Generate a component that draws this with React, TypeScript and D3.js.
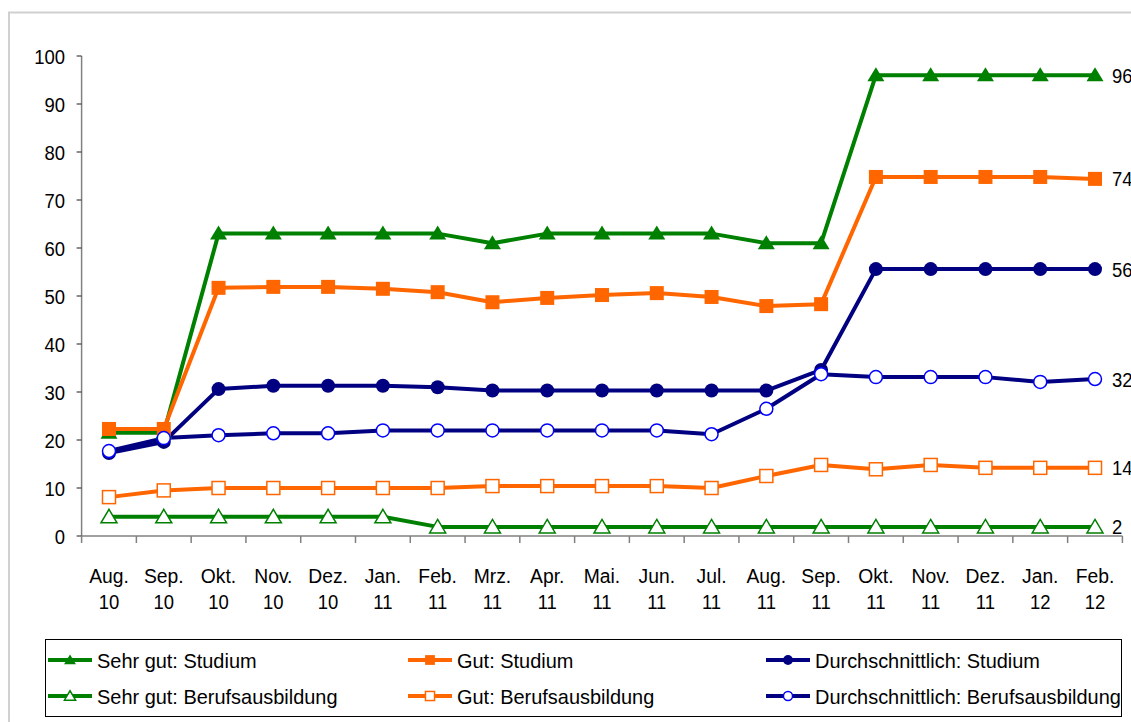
import React from "react";
import * as d3 from "d3";

const categories: string[][] = [
  ["Aug.", "10"], ["Sep.", "10"], ["Okt.", "10"], ["Nov.", "10"], ["Dez.", "10"],
  ["Jan.", "11"], ["Feb.", "11"], ["Mrz.", "11"], ["Apr.", "11"], ["Mai.", "11"],
  ["Jun.", "11"], ["Jul.", "11"], ["Aug.", "11"], ["Sep.", "11"], ["Okt.", "11"],
  ["Nov.", "11"], ["Dez.", "11"], ["Jan.", "12"], ["Feb.", "12"],
];

const sehrGutStudium = [21.5, 21.5, 63, 63, 63, 63, 63, 61, 63, 63, 63, 63, 61, 61, 96, 96, 96, 96, 96];
const gutStudium = [22.3, 22.3, 51.7, 51.9, 51.9, 51.5, 50.8, 48.7, 49.6, 50.2, 50.6, 49.8, 47.9, 48.3, 74.8, 74.8, 74.8, 74.8, 74.4];
const durchStudium = [17.3, 19.6, 30.6, 31.3, 31.3, 31.3, 31, 30.3, 30.3, 30.3, 30.3, 30.3, 30.3, 34.6, 55.6, 55.6, 55.6, 55.6, 55.6];
const sehrGutBeruf = [4, 4, 4, 4, 4, 4, 1.9, 1.9, 1.9, 1.9, 1.9, 1.9, 1.9, 1.9, 1.9, 1.9, 1.9, 1.9, 1.9];
const gutBeruf = [8.1, 9.5, 10, 10, 10, 10, 10, 10.4, 10.4, 10.4, 10.4, 10, 12.5, 14.8, 13.9, 14.8, 14.2, 14.2, 14.2];
const durchBeruf = [17.7, 20.4, 21, 21.4, 21.4, 22, 22, 22, 22, 22, 22, 21.2, 26.5, 33.7, 33.1, 33.1, 33.1, 32.1, 32.7];

const endLabels = ["96", "74", "56", "32", "14", "2"];
const yTicks = [0, 10, 20, 30, 40, 50, 60, 70, 80, 90, 100];

type Marker = "triFill" | "sqFill" | "circFill" | "triOpen" | "sqOpen" | "circOpen";
interface Series { name: string; values: number[]; line: string; mark: string; marker: Marker; label: string }

const series: Series[] = [
  { name: "Sehr gut: Studium", values: sehrGutStudium, line: "#008000", mark: "#008000", marker: "triFill", label: endLabels[0] },
  { name: "Gut: Studium", values: gutStudium, line: "#FF6600", mark: "#FF6600", marker: "sqFill", label: endLabels[1] },
  { name: "Durchschnittlich: Studium", values: durchStudium, line: "#000080", mark: "#000080", marker: "circFill", label: endLabels[2] },
  { name: "Sehr gut: Berufsausbildung", values: sehrGutBeruf, line: "#008000", mark: "#008000", marker: "triOpen", label: endLabels[5] },
  { name: "Gut: Berufsausbildung", values: gutBeruf, line: "#FF6600", mark: "#FF6600", marker: "sqOpen", label: endLabels[4] },
  { name: "Durchschnittlich: Berufsausbildung", values: durchBeruf, line: "#000080", mark: "#0000FF", marker: "circOpen", label: endLabels[3] },
];

const FONT = "'Liberation Sans', Arial, sans-serif";

function T({ x, y, text, anchor = "start", size = 21, sx = 0.92 }: { x: number; y: number; text: string; anchor?: "start" | "middle" | "end"; size?: number; sx?: number }) {
  return (
    <text transform={`translate(${x},${y}) scale(${sx},1)`} textAnchor={anchor} fontSize={size} fill="#000">{text}</text>
  );
}

function MarkerShape({ type, color, x, y, s = 1 }: { type: Marker; color: string; x: number; y: number; s?: number }) {
  switch (type) {
    case "triFill":
      return <path d={`M${x},${y - 8 * s}L${x + 8.5 * s},${y + 6 * s}L${x - 8.5 * s},${y + 6 * s}Z`} fill={color} />;
    case "triOpen":
      return <path d={`M${x},${y - 7.5 * s}L${x + 8 * s},${y + 6 * s}L${x - 8 * s},${y + 6 * s}Z`} fill="white" stroke={color} strokeWidth={1.5} />;
    case "sqFill":
      return <rect x={x - 7 * s} y={y - 7 * s} width={14 * s} height={14 * s} fill={color} />;
    case "sqOpen":
      return <rect x={x - 6.5 * s} y={y - 6.5 * s} width={13 * s} height={13 * s} fill="white" stroke={color} strokeWidth={1.5} />;
    case "circFill":
      return <circle cx={x} cy={y} r={7 * s} fill={color} />;
    case "circOpen":
      return <circle cx={x} cy={y} r={6.5 * s} fill="white" stroke={color} strokeWidth={1.5} />;
  }
}

export default function App() {
  const W = 1131, H = 722;
  const left = 81.6, right = 1122.4, top = 56, bottom = 536;
  const x = d3.scaleBand<number>().domain(d3.range(categories.length)).range([left, right]);
  const cx = (i: number) => (x(i) as number) + x.bandwidth() / 2;
  const y = d3.scaleLinear().domain([0, 100]).range([bottom, top]);
  const line = d3.line<number>().x((_, i) => cx(i)).y((v) => y(v));

  const legendCols = [48, 408, 766];
  const legendRows = [660, 696];

  return (
    <svg width={W} height={H} style={{ position: "absolute", left: 0, top: 0, background: "white" }} fontFamily={FONT}>
      <rect x={9} y={12.5} width={1140} height={720} fill="white" stroke="#d0d0d0" strokeWidth={2} />
      {/* y axis */}
      <line x1={left} x2={left} y1={top} y2={bottom} stroke="#808080" strokeWidth={1.5} />
      {yTicks.map((t) => (
        <g key={t}>
          <line x1={left - 5} x2={left} y1={y(t)} y2={y(t)} stroke="#404040" strokeWidth={1.2} />
          <T x={65} y={y(t) + 7.5} text={String(t)} anchor="end" sx={0.88} />
        </g>
      ))}
      {/* x axis */}
      <line x1={left} x2={right} y1={bottom} y2={bottom} stroke="#808080" strokeWidth={1.5} />
      {d3.range(categories.length + 1).map((i) => {
        const xx = left + i * x.bandwidth();
        return <line key={i} x1={xx} x2={xx} y1={bottom} y2={bottom + 7} stroke="#808080" strokeWidth={1.5} />;
      })}
      {categories.map((c, i) => (
        <g key={i}>
          <T x={cx(i)} y={583} text={c[0]} anchor="middle" />
          <T x={cx(i)} y={609} text={c[1]} anchor="middle" sx={0.88} />
        </g>
      ))}
      {/* series */}
      {series.map((s) => (
        <path key={s.name + "l"} d={line(s.values) || ""} fill="none" stroke={s.line} strokeWidth={4} strokeLinejoin="round" />
      ))}
      {series.map((s) => (
        <g key={s.name + "m"}>
          {s.values.map((v, i) => (
            <MarkerShape key={i} type={s.marker} color={s.mark} x={cx(i)} y={y(v)} />
          ))}
        </g>
      ))}
      {series.map((s) => (
        <T key={s.name + "t"} x={1112} y={y(s.values[s.values.length - 1]) + 7.5} text={s.label} sx={0.88} />
      ))}
      {/* legend */}
      <rect x={45.5} y={639.5} width={1076} height={77} fill="white" stroke="#000" strokeWidth={1} />
      {series.map((s, k) => {
        const lx = legendCols[k % 3];
        const ly = legendRows[Math.floor(k / 3)];
        return (
          <g key={s.name + "lg"}>
            <line x1={lx} x2={lx + 44} y1={ly} y2={ly} stroke={s.line} strokeWidth={4} />
            <MarkerShape type={s.marker} color={s.mark} x={lx + 22} y={ly} s={0.7} />
            <T x={lx + 49} y={ly + 8} text={s.name} sx={0.95} />
          </g>
        );
      })}
    </svg>
  );
}
